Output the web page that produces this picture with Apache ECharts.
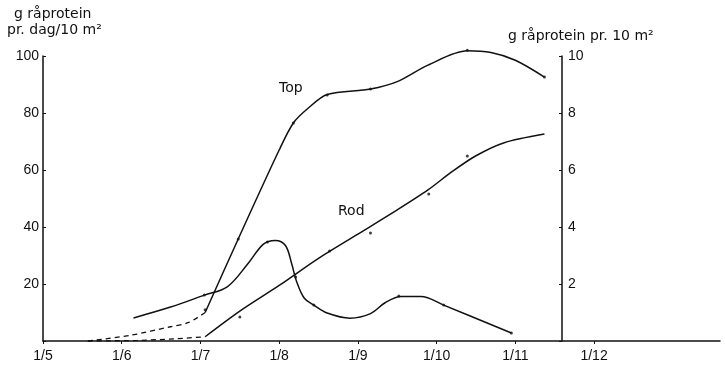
<!DOCTYPE html>
<html><head><meta charset="utf-8">
<script src="https://cdn.jsdelivr.net/npm/echarts@6/dist/echarts.min.js"></script>
<style>html,body{margin:0;padding:0;background:#fff}#c{width:725px;height:367px}</style>
</head><body><div id="c"></div>
<script>
// x values are months after 1/5 (0 = 1/5, 1 = 1/6, ...)
const monthLabels = ['1/5','1/6','1/7','1/8','1/9','1/10','1/11','1/12'];
const monthTicks = [0,1,2,3,4,5,6,7];
// Top (right axis, g råprotein pr. 10 m²)
const topDashed = [[0.57,0],[1.11,0.2],[1.62,0.5],[1.85,0.65],[2.06,1.0]];
const topSolid = [[2.06,1.0],[2.48,3.58],[3.0,6.7],[3.18,7.65],[3.36,8.15],[3.61,8.65],[4.16,8.84],[4.5,9.1],[4.89,9.68],[5.39,10.18],[5.69,10.12],[6.0,9.85],[6.37,9.26]];
const topDots = [[2.06,1.1],[2.48,3.58],[3.18,7.65],[3.61,8.63],[4.16,8.84],[5.39,10.2],[6.37,9.26]];
// Rod (right axis)
const rodDashed = [[0.57,0],[1.2,0.02],[1.7,0.08],[2.06,0.15]];
const rodSolid = [[2.06,0.15],[2.5,1.05],[3.0,1.95],[3.5,2.9],[4.0,3.75],[4.5,4.6],[4.89,5.3],[5.2,5.95],[5.5,6.5],[5.85,6.95],[6.37,7.26]];
const rodDots = [[2.5,0.84],[3.64,3.16],[4.16,3.79],[4.9,5.16],[5.39,6.49]];
// Daily rate (left axis, g råprotein pr. dag/10 m²)
const daily = [[1.15,8.1],[1.62,11.9],[2.05,16.1],[2.34,19],[2.6,27],[2.8,34],[2.95,35.3],[3.08,33.5],[3.16,27],[3.22,21],[3.32,15],[3.44,12.6],[3.61,9.8],[3.9,8.0],[4.16,9.6],[4.35,13.5],[4.55,15.6],[4.8,15.6],[5.09,12.6],[5.95,2.8]];
const dailyDots = [[2.05,16.1],[2.85,34.7],[3.21,22.5],[3.44,12.6],[4.52,15.8],[5.09,12.6],[5.95,2.8]];

const FONT = 'DejaVu Sans';
const TICKFONT = 'Liberation Sans';
const lineBase = {type:'line', showSymbol:false, symbol:'none', animation:false, silent:true, clip:false};
const dotBase = {type:'scatter', symbolSize:3, itemStyle:{color:'#111'}, animation:false, silent:true, clip:false};

const chart = echarts.init(document.getElementById('c'));
chart.setOption({
  backgroundColor:'#fff',
  animation:false,
  grid:{left:43, right:5, top:56, bottom:26},
  xAxis:{type:'value', min:0, max:8.6,
    axisLine:{lineStyle:{color:'#111', width:1.5}},
    axisTick:{customValues:monthTicks, length:3, lineStyle:{color:'#111'}},
    axisLabel:{customValues:monthTicks, formatter:v=>monthLabels[Math.round(v)], color:'#111', fontSize:14, fontFamily:TICKFONT, margin:8},
    splitLine:{show:false}},
  yAxis:[
    {type:'value', min:0, max:100, interval:20, position:'left',
      axisLine:{show:true, lineStyle:{color:'#111', width:1.5}},
      axisTick:{show:true, inside:true, length:3, lineStyle:{color:'#111'}},
      axisLabel:{color:'#111', fontSize:14, fontFamily:TICKFONT, margin:4, formatter:v=>v===0?'':String(v)},
      splitLine:{show:false}},
    {type:'value', min:0, max:10, interval:2, position:'right', offset:-158,
      axisLine:{show:true, lineStyle:{color:'#111', width:1.5}},
      axisTick:{show:true, inside:true, length:3, lineStyle:{color:'#111'}},
      axisLabel:{color:'#111', fontSize:14, fontFamily:TICKFONT, margin:6, formatter:v=>v===0?'':String(v)},
      splitLine:{show:false}}
  ],
  series:[
    Object.assign({}, lineBase, {name:'Top dashed', yAxisIndex:1, data:topDashed, smooth:0.3, lineStyle:{color:'#111', width:1.3, type:[5,4]}}),
    Object.assign({}, lineBase, {name:'Top', yAxisIndex:1, data:topSolid, smooth:0.3, lineStyle:{color:'#111', width:1.5}}),
    Object.assign({}, lineBase, {name:'Rod dashed', yAxisIndex:1, data:rodDashed, smooth:0.3, lineStyle:{color:'#111', width:1.3, type:[5,4]}}),
    Object.assign({}, lineBase, {name:'Rod', yAxisIndex:1, data:rodSolid, smooth:0.3, lineStyle:{color:'#111', width:1.5}}),
    Object.assign({}, lineBase, {name:'Daily', yAxisIndex:0, data:daily, smooth:0.35, lineStyle:{color:'#111', width:1.5}}),
    Object.assign({}, dotBase, {yAxisIndex:1, data:topDots}),
    Object.assign({}, dotBase, {yAxisIndex:1, data:rodDots}),
    Object.assign({}, dotBase, {yAxisIndex:0, data:dailyDots})
  ],
  graphic:[
    {type:'text', left:14, top:7, style:{text:'g råprotein', font:'14px '+FONT, fill:'#111'}},
    {type:'text', left:7, top:23, style:{text:'pr. dag/10 m²', font:'14px '+FONT, fill:'#111'}},
    {type:'text', left:508, top:29, style:{text:'g råprotein pr. 10 m²', font:'14px '+FONT, fill:'#111'}},
    {type:'text', left:279, top:81, style:{text:'Top', font:'14px '+FONT, fill:'#111'}},
    {type:'text', left:338, top:204, style:{text:'Rod', font:'14px '+FONT, fill:'#111'}}
  ]
});
</script></body></html>
